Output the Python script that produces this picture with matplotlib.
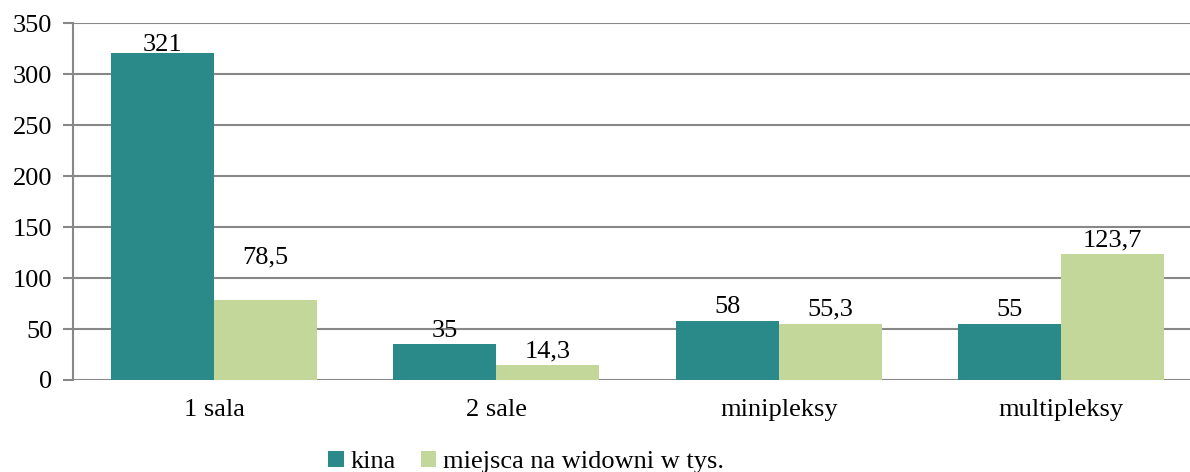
import matplotlib
matplotlib.use("Agg")
import matplotlib.pyplot as plt
import numpy as np

categories = ["1 sala", "2 sale", "minipleksy", "multipleksy"]
kina = [321, 35, 58, 55]
miejsca = [78.5, 14.3, 55.3, 123.7]
kina_labels = ["321", "35", "58", "55"]
miejsca_labels = ["78,5", "14,3", "55,3", "123,7"]
series_names = ["kina", "miejsca na widowni w tys."]
yticks = [0, 50, 100, 150, 200, 250, 300, 350]

teal = "#2A8989"
green = "#C4D79B"
plt.rcParams['font.family'] = ['Liberation Serif', 'DejaVu Serif']
FS = 19

W, H = 1190, 472
fig = plt.figure(figsize=(W/100, H/100), dpi=100)
left, right = 73, 1190
bottom, top = 380, 23.5
ax = fig.add_axes([left/W, 1-bottom/H, (right-left)/W, (bottom-top)/H])

x = np.arange(len(categories))
bw = 0.365
b1 = ax.bar(x - bw/2, kina, bw, color=teal, label=series_names[0], zorder=3)
b2 = ax.bar(x + bw/2, miejsca, bw, color=green, label=series_names[1], zorder=3)

ax.set_xlim(-0.5, -0.5 + (right-left)/282.3)
ax.set_ylim(0, 350)
ax.set_yticks(yticks)
ax.set_yticklabels([str(t) for t in yticks], fontsize=FS)
ax.set_xticks(x)
ax.set_xticklabels(categories, fontsize=FS)
ax.tick_params(axis='x', length=0, pad=14)
ax.tick_params(axis='y', length=7, width=1.5, color="#888888", pad=8)
ax.grid(axis='y', color="#888888", linewidth=1.5, zorder=0)
for s in ["top", "right", "bottom"]:
    ax.spines[s].set_visible(False)
ax.spines["left"].set_color("#888888")
ax.spines["left"].set_linewidth(1.5)

label_offsets_k = [-2, 2, 2, 2]
label_offsets_m = [23, 2, 2, 2]
for rect, lab, off in zip(b1, kina_labels, label_offsets_k):
    ax.annotate(lab, (rect.get_x() + rect.get_width()/2, rect.get_height()),
                xytext=(0, off), textcoords="offset points", ha="center", va="bottom", fontsize=FS)
for rect, lab, off in zip(b2, miejsca_labels, label_offsets_m):
    ax.annotate(lab, (rect.get_x() + rect.get_width()/2, rect.get_height()),
                xytext=(0, off), textcoords="offset points", ha="center", va="bottom", fontsize=FS)

leg = fig.legend(loc="center", bbox_to_anchor=(526/W, 1-462/H), ncol=2, frameon=False,
                 fontsize=FS, handlelength=0.6, handleheight=0.6, handletextpad=0.25,
                 columnspacing=0.95)

fig.savefig("out.png", dpi=100)
